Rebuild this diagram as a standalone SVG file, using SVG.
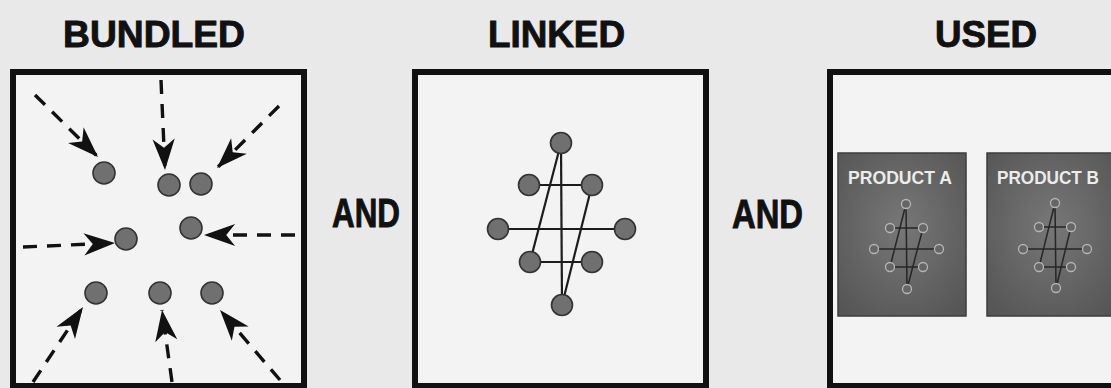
<svg xmlns="http://www.w3.org/2000/svg" width="1111" height="388" viewBox="0 0 1111 388">
<style>
.title{font-family:"Liberation Sans",Arial,sans-serif;font-weight:bold;fill:#111;stroke:#111;stroke-width:0.9;}
.frame{fill:#f3f3f3;stroke:#111;stroke-width:6;}
.dot{fill:#707070;stroke:#333;stroke-width:1.6;}
.mdot{fill:#666;stroke:#b5b5b5;stroke-width:1.3;}
.dash{stroke:#111;stroke-width:3.4;stroke-dasharray:14 10;fill:none;marker-end:url(#dart);}
.link{stroke:#1c1c1c;stroke-width:2.2;fill:none;}
.mlink{stroke:#262626;stroke-width:1.5;fill:none;}
.panel{fill:url(#pg);stroke:#3c3c3c;stroke-width:1.5;}
.ptext{font-family:"Liberation Sans",Arial,sans-serif;font-weight:bold;font-size:18px;fill:#ececec;}
</style>
<defs>
<marker id="dart" markerUnits="userSpaceOnUse" markerWidth="40" markerHeight="40" viewBox="-32 -16 36 32" refX="0" refY="0" orient="auto">
<path d="M0,0 L-28,-10 L-20,0 L-28,10 Z" fill="#111"/>
</marker>
<radialGradient id="pg" cx="0.5" cy="0.45" r="0.7">
<stop offset="0" stop-color="#777"/>
<stop offset="1" stop-color="#555"/>
</radialGradient>
</defs>
<rect width="1111" height="388" fill="#e9e9e9"/>

<g id="titles">
<text class="title" x="63" y="47" font-size="37" textLength="182" lengthAdjust="spacingAndGlyphs">BUNDLED</text>
<text class="title" x="488" y="47" font-size="37" textLength="137" lengthAdjust="spacingAndGlyphs">LINKED</text>
<text class="title" x="935" y="47" font-size="37" textLength="102" lengthAdjust="spacingAndGlyphs">USED</text>
<text class="title" x="332" y="227" font-size="40" textLength="68" lengthAdjust="spacingAndGlyphs">AND</text>
<text class="title" x="732" y="228" font-size="40" textLength="71" lengthAdjust="spacingAndGlyphs">AND</text>
</g>

<g id="frames">
<rect id="frame-bundled" class="frame" x="13" y="72" width="291" height="314"/>
<rect id="frame-linked" class="frame" x="415" y="72" width="291" height="314"/>
<rect id="frame-used" class="frame" x="830" y="72" width="300" height="314"/>
</g>

<g id="connectors">
<line class="dash" x1="35" y1="95" x2="98" y2="157"/>
<line class="dash" x1="161" y1="80" x2="165" y2="170"/>
<line class="dash" x1="279" y1="106" x2="217" y2="168"/>
<line class="dash" x1="23" y1="247" x2="115" y2="243"/>
<line class="dash" x1="295" y1="235" x2="204" y2="235"/>
<line class="dash" x1="33" y1="382" x2="83" y2="307"/>
<line class="dash" x1="172" y1="382" x2="162" y2="310"/>
<line class="dash" x1="280" y1="380" x2="220" y2="310"/>

<line class="link" x1="561" y1="143" x2="562" y2="305"/>
<line class="link" x1="561" y1="143" x2="530" y2="262"/>
<line class="link" x1="592" y1="185" x2="562" y2="305"/>
<line class="link" x1="529" y1="185" x2="592" y2="185"/>
<line class="link" x1="498" y1="229" x2="625" y2="229"/>
<line class="link" x1="530" y1="262" x2="592" y2="262"/>
</g>

<g id="bundled-nodes">
<g id="b1"><circle class="dot" cx="104" cy="173" r="11"/></g>
<g id="b2"><circle class="dot" cx="169" cy="185" r="11"/></g>
<g id="b3"><circle class="dot" cx="201" cy="184" r="11"/></g>
<g id="b4"><circle class="dot" cx="191" cy="228" r="11"/></g>
<g id="b5"><circle class="dot" cx="126" cy="239" r="11"/></g>
<g id="b6"><circle class="dot" cx="96" cy="293" r="11"/></g>
<g id="b7"><circle class="dot" cx="160" cy="293" r="11"/></g>
<g id="b8"><circle class="dot" cx="212" cy="293" r="11"/></g>
</g>

<g id="linked-nodes">
<g id="l1"><circle class="dot" cx="561" cy="143" r="10.5"/></g>
<g id="l2"><circle class="dot" cx="529" cy="185" r="10.5"/></g>
<g id="l3"><circle class="dot" cx="592" cy="185" r="10.5"/></g>
<g id="l4"><circle class="dot" cx="498" cy="229" r="10.5"/></g>
<g id="l5"><circle class="dot" cx="625" cy="229" r="10.5"/></g>
<g id="l6"><circle class="dot" cx="530" cy="262" r="10.5"/></g>
<g id="l7"><circle class="dot" cx="592" cy="262" r="10.5"/></g>
<g id="l8"><circle class="dot" cx="562" cy="305" r="10.5"/></g>
</g>

<g id="product-a">
<rect class="panel" x="838" y="153" width="128" height="163"/>
<text class="ptext" x="848" y="184" textLength="104" lengthAdjust="spacingAndGlyphs">PRODUCT A</text>
<g class="mlink">
<line x1="906" y1="204" x2="907" y2="289"/>
<line x1="906" y1="204" x2="890" y2="267"/>
<line x1="923" y1="228" x2="907" y2="289"/>
<line x1="890" y1="228" x2="923" y2="228"/>
<line x1="874" y1="249" x2="939" y2="249"/>
<line x1="890" y1="267" x2="923" y2="267"/>
</g>
<circle class="mdot" cx="906" cy="204" r="4.5"/>
<circle class="mdot" cx="890" cy="228" r="4.5"/>
<circle class="mdot" cx="923" cy="228" r="4.5"/>
<circle class="mdot" cx="874" cy="249" r="4.5"/>
<circle class="mdot" cx="939" cy="249" r="4.5"/>
<circle class="mdot" cx="890" cy="267" r="4.5"/>
<circle class="mdot" cx="923" cy="267" r="4.5"/>
<circle class="mdot" cx="907" cy="289" r="4.5"/>
</g>

<g id="product-b">
<rect class="panel" x="987" y="153" width="130" height="163"/>
<text class="ptext" x="997" y="184" textLength="102" lengthAdjust="spacingAndGlyphs">PRODUCT B</text>
<g class="mlink">
<line x1="1055" y1="203" x2="1056" y2="288"/>
<line x1="1055" y1="203" x2="1039" y2="267"/>
<line x1="1071" y1="227" x2="1056" y2="288"/>
<line x1="1039" y1="227" x2="1071" y2="227"/>
<line x1="1023" y1="249" x2="1087" y2="249"/>
<line x1="1039" y1="267" x2="1071" y2="267"/>
</g>
<circle class="mdot" cx="1055" cy="203" r="4.5"/>
<circle class="mdot" cx="1039" cy="227" r="4.5"/>
<circle class="mdot" cx="1071" cy="227" r="4.5"/>
<circle class="mdot" cx="1023" cy="249" r="4.5"/>
<circle class="mdot" cx="1087" cy="249" r="4.5"/>
<circle class="mdot" cx="1039" cy="267" r="4.5"/>
<circle class="mdot" cx="1071" cy="267" r="4.5"/>
<circle class="mdot" cx="1056" cy="288" r="4.5"/>
</g>
</svg>
